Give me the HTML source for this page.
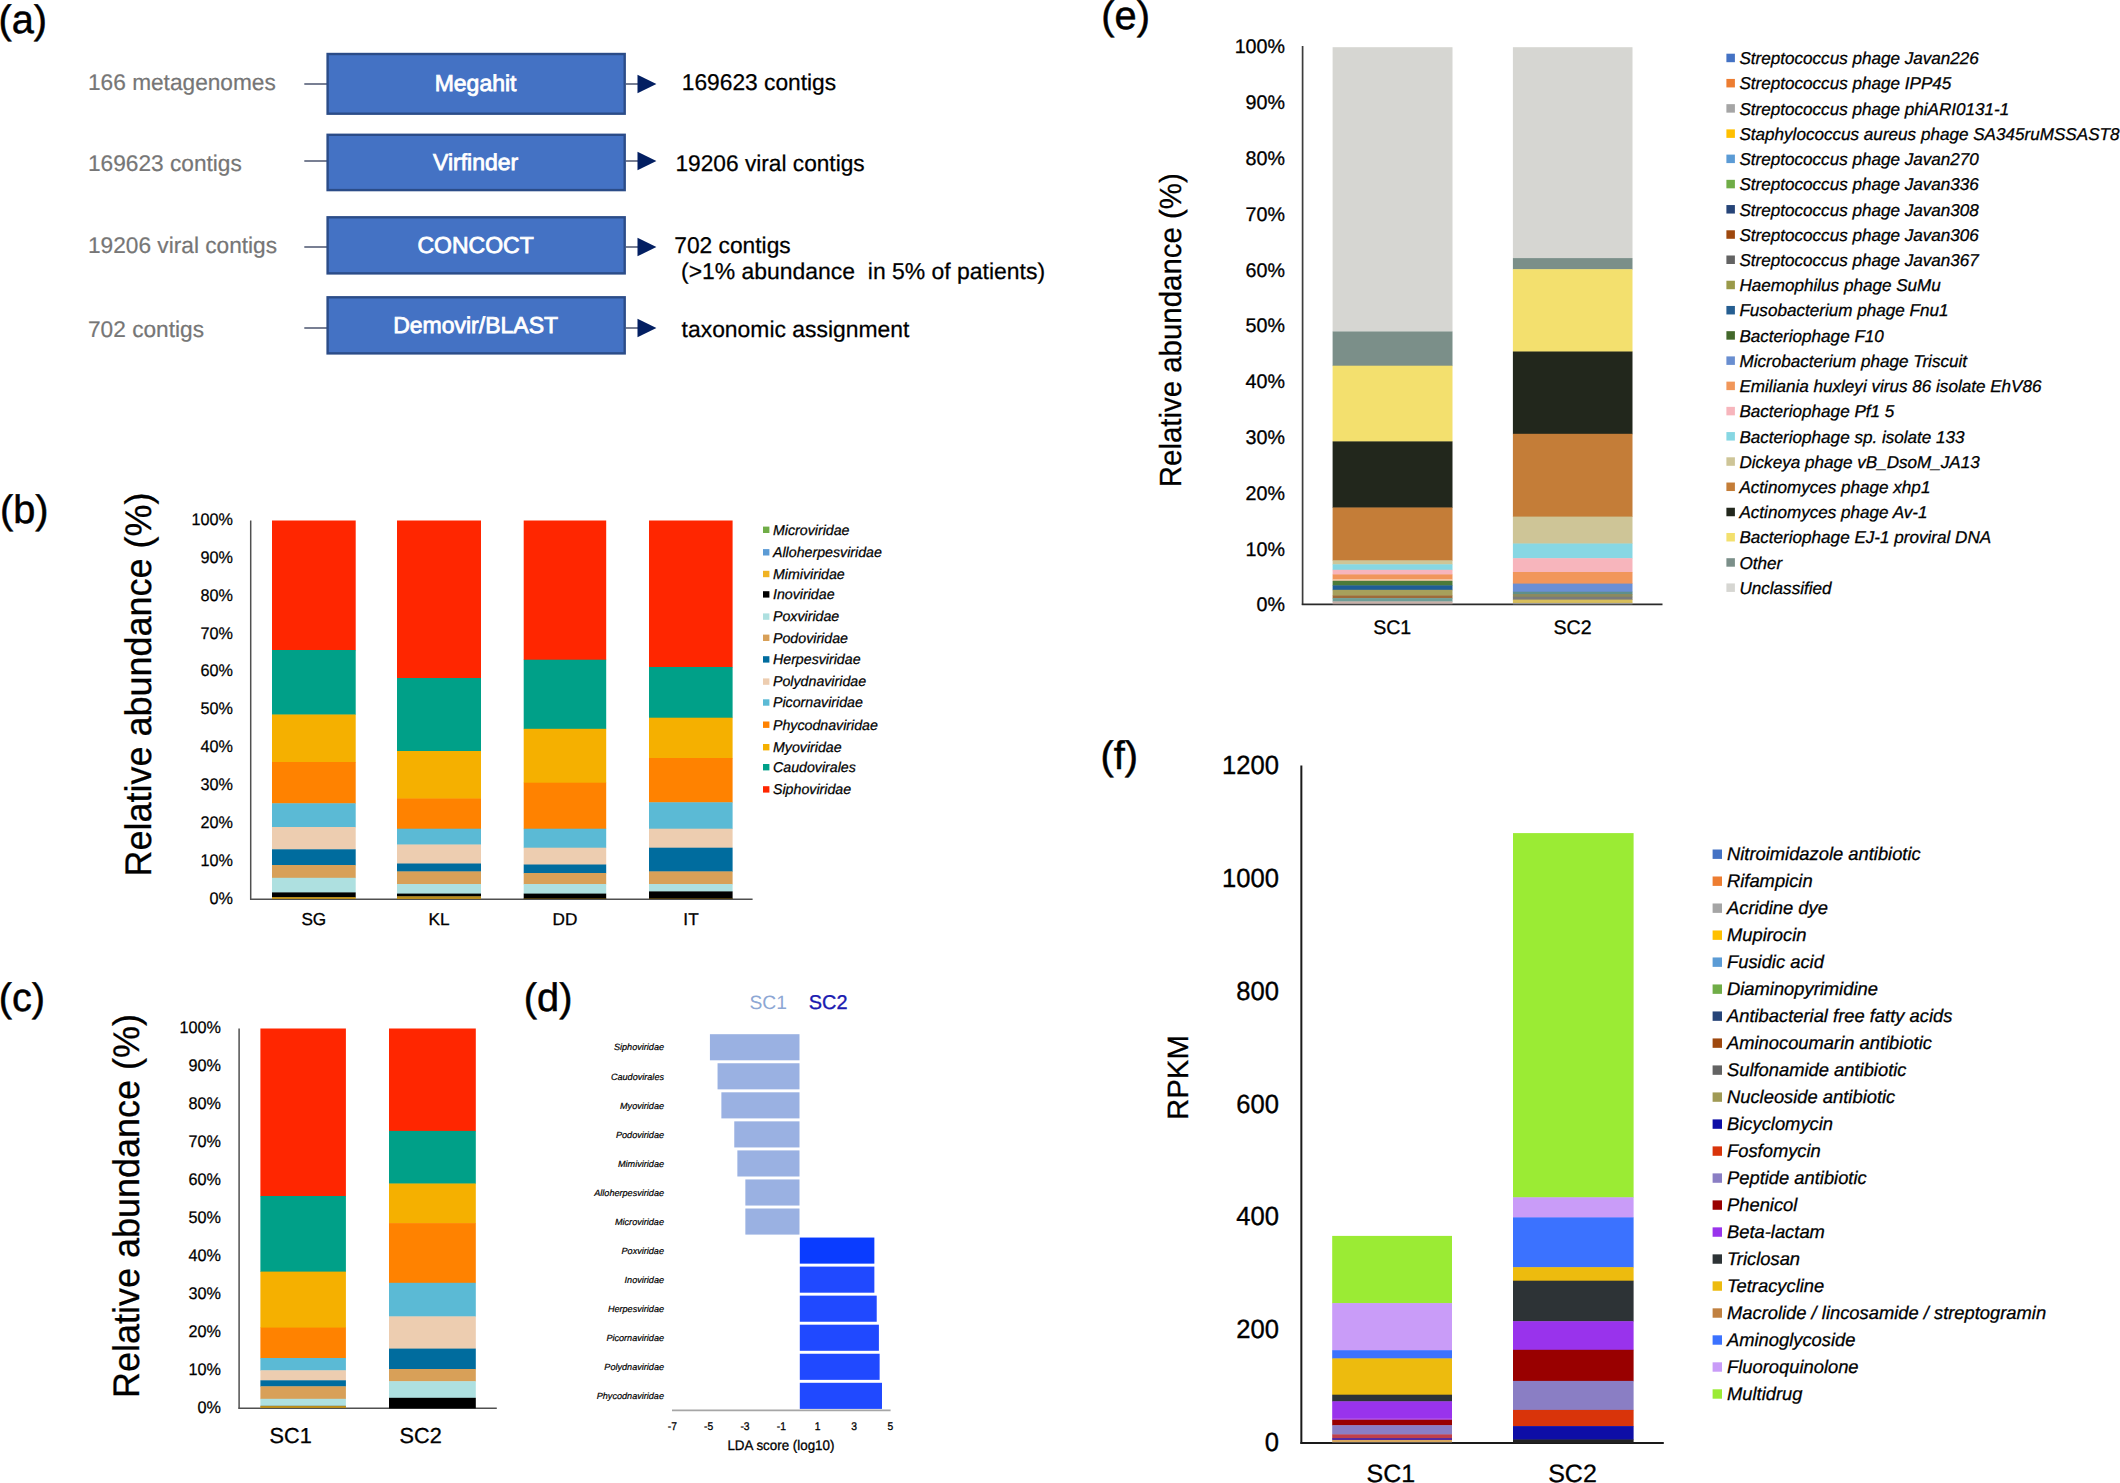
<!DOCTYPE html>
<html lang="en">
<head>
<meta charset="utf-8">
<title>Figure</title>
<style>
html,body{margin:0;padding:0;background:#fff;}
body{width:2120px;height:1483px;overflow:hidden;}
svg{display:block;font-family:"Liberation Sans",sans-serif;}
text{white-space:pre;}
</style>
</head>
<body>
<svg width="2120" height="1483" viewBox="0 0 2120 1483" text-rendering="geometricPrecision">
<rect width="2120" height="1483" fill="#fff"/>
<g id="panel-a">
<text x="-1.60" y="32.90" font-size="39.75" stroke="#000" stroke-width="0.5">(a)</text>
<text x="88.00" y="90.00" font-size="22.68" fill="#767676" stroke="#767676" stroke-width="0.2">166 metagenomes</text>
<line x1="304.30" y1="84.00" x2="327.00" y2="84.00" stroke="#2f3a58" stroke-width="1.3"/>
<rect x="327.60" y="54.00" width="297.10" height="59.70" fill="#4472c4" stroke="#2b4c88" stroke-width="2.4"/>
<text x="475.60" y="91.15" font-size="23.0" text-anchor="middle" fill="#fff" stroke="#fff" stroke-width="0.8">Megahit</text>
<line x1="625.90" y1="84.00" x2="640.00" y2="84.00" stroke="#2f3a58" stroke-width="1.3"/>
<polygon points="637.5,74.7 656.4,84.0 637.5,93.3" fill="#031f62"/>
<text x="681.80" y="90.00" font-size="22.75" xml:space="preserve" stroke="#000" stroke-width="0.25">169623 contigs</text>
<text x="88.00" y="171.00" font-size="22.68" fill="#767676" stroke="#767676" stroke-width="0.2">169623 contigs</text>
<line x1="304.30" y1="161.00" x2="327.00" y2="161.00" stroke="#2f3a58" stroke-width="1.3"/>
<rect x="327.60" y="134.80" width="297.10" height="55.30" fill="#4472c4" stroke="#2b4c88" stroke-width="2.4"/>
<text x="475.60" y="169.75" font-size="23.0" text-anchor="middle" fill="#fff" stroke="#fff" stroke-width="0.8">Virfinder</text>
<line x1="625.90" y1="161.00" x2="640.00" y2="161.00" stroke="#2f3a58" stroke-width="1.3"/>
<polygon points="637.5,151.7 656.4,161.0 637.5,170.3" fill="#031f62"/>
<text x="675.50" y="171.00" font-size="22.7" xml:space="preserve" stroke="#000" stroke-width="0.25">19206 viral contigs</text>
<text x="88.00" y="252.50" font-size="22.68" fill="#767676" stroke="#767676" stroke-width="0.2">19206 viral contigs</text>
<line x1="304.30" y1="247.00" x2="327.00" y2="247.00" stroke="#2f3a58" stroke-width="1.3"/>
<rect x="327.60" y="217.30" width="297.10" height="56.10" fill="#4472c4" stroke="#2b4c88" stroke-width="2.4"/>
<text x="475.60" y="252.65" font-size="23.0" text-anchor="middle" fill="#fff" stroke="#fff" stroke-width="0.8">CONCOCT</text>
<line x1="625.90" y1="247.00" x2="640.00" y2="247.00" stroke="#2f3a58" stroke-width="1.3"/>
<polygon points="637.5,237.7 656.4,247.0 637.5,256.3" fill="#031f62"/>
<text x="674.30" y="252.50" font-size="22.75" xml:space="preserve" stroke="#000" stroke-width="0.25">702 contigs</text>
<text x="681.00" y="279.40" font-size="22.94" xml:space="preserve" stroke="#000" stroke-width="0.25">(&gt;1% abundance  in 5% of patients)</text>
<text x="88.00" y="337.00" font-size="22.68" fill="#767676" stroke="#767676" stroke-width="0.2">702 contigs</text>
<line x1="304.30" y1="328.00" x2="327.00" y2="328.00" stroke="#2f3a58" stroke-width="1.3"/>
<rect x="327.60" y="297.30" width="297.10" height="56.10" fill="#4472c4" stroke="#2b4c88" stroke-width="2.4"/>
<text x="475.60" y="332.65" font-size="23.0" text-anchor="middle" fill="#fff" stroke="#fff" stroke-width="0.8">Demovir/BLAST</text>
<line x1="625.90" y1="328.00" x2="640.00" y2="328.00" stroke="#2f3a58" stroke-width="1.3"/>
<polygon points="637.5,318.7 656.4,328.0 637.5,337.3" fill="#031f62"/>
<text x="681.60" y="337.00" font-size="22.9" xml:space="preserve" stroke="#000" stroke-width="0.25">taxonomic assignment</text>
</g>
<g id="panel-b">
<text x="0.00" y="522.70" font-size="39.75" stroke="#000" stroke-width="0.5">(b)</text>
<text x="150.90" y="684.50" font-size="37.0" text-anchor="middle" transform="rotate(-90 150.90 684.50)" textLength="384.00" lengthAdjust="spacingAndGlyphs" stroke="#000" stroke-width="0.3">Relative abundance (%)</text>
<text transform="translate(233.00 903.50) scale(0.96 1)" font-size="16.9" text-anchor="end" fill="#000" stroke="#000" stroke-width="0.25">0%</text>
<text transform="translate(233.00 865.65) scale(0.96 1)" font-size="16.9" text-anchor="end" fill="#000" stroke="#000" stroke-width="0.25">10%</text>
<text transform="translate(233.00 827.80) scale(0.96 1)" font-size="16.9" text-anchor="end" fill="#000" stroke="#000" stroke-width="0.25">20%</text>
<text transform="translate(233.00 789.95) scale(0.96 1)" font-size="16.9" text-anchor="end" fill="#000" stroke="#000" stroke-width="0.25">30%</text>
<text transform="translate(233.00 752.10) scale(0.96 1)" font-size="16.9" text-anchor="end" fill="#000" stroke="#000" stroke-width="0.25">40%</text>
<text transform="translate(233.00 714.25) scale(0.96 1)" font-size="16.9" text-anchor="end" fill="#000" stroke="#000" stroke-width="0.25">50%</text>
<text transform="translate(233.00 676.40) scale(0.96 1)" font-size="16.9" text-anchor="end" fill="#000" stroke="#000" stroke-width="0.25">60%</text>
<text transform="translate(233.00 638.55) scale(0.96 1)" font-size="16.9" text-anchor="end" fill="#000" stroke="#000" stroke-width="0.25">70%</text>
<text transform="translate(233.00 600.70) scale(0.96 1)" font-size="16.9" text-anchor="end" fill="#000" stroke="#000" stroke-width="0.25">80%</text>
<text transform="translate(233.00 562.85) scale(0.96 1)" font-size="16.9" text-anchor="end" fill="#000" stroke="#000" stroke-width="0.25">90%</text>
<text transform="translate(233.00 525.00) scale(0.96 1)" font-size="16.9" text-anchor="end" fill="#000" stroke="#000" stroke-width="0.25">100%</text>
<line x1="250.70" y1="520.50" x2="250.70" y2="899.70" stroke="#505050" stroke-width="1.5"/>
<line x1="250.00" y1="899.30" x2="752.60" y2="899.30" stroke="#505050" stroke-width="1.6"/>
<rect x="272.00" y="520.50" width="83.70" height="129.90" fill="#ff2600"/>
<rect x="272.00" y="650.00" width="83.70" height="64.90" fill="#00a088"/>
<rect x="272.00" y="714.50" width="83.70" height="47.90" fill="#f5b000"/>
<rect x="272.00" y="762.00" width="83.70" height="41.70" fill="#ff8200"/>
<rect x="272.00" y="803.30" width="83.70" height="24.10" fill="#5bbad5"/>
<rect x="272.00" y="827.00" width="83.70" height="22.70" fill="#edcdb0"/>
<rect x="272.00" y="849.30" width="83.70" height="16.10" fill="#006c9e"/>
<rect x="272.00" y="865.00" width="83.70" height="13.20" fill="#d8a058"/>
<rect x="272.00" y="877.80" width="83.70" height="15.00" fill="#aee0e0"/>
<rect x="272.00" y="892.40" width="83.70" height="5.00" fill="#000000"/>
<rect x="272.00" y="897.00" width="83.70" height="2.00" fill="#b98d1c"/>
<rect x="397.00" y="520.50" width="84.00" height="157.90" fill="#ff2600"/>
<rect x="397.00" y="678.00" width="84.00" height="73.40" fill="#00a088"/>
<rect x="397.00" y="751.00" width="84.00" height="47.90" fill="#f5b000"/>
<rect x="397.00" y="798.50" width="84.00" height="30.60" fill="#ff8200"/>
<rect x="397.00" y="828.70" width="84.00" height="16.20" fill="#5bbad5"/>
<rect x="397.00" y="844.50" width="84.00" height="19.40" fill="#edcdb0"/>
<rect x="397.00" y="863.50" width="84.00" height="8.30" fill="#006c9e"/>
<rect x="397.00" y="871.40" width="84.00" height="13.00" fill="#d8a058"/>
<rect x="397.00" y="884.00" width="84.00" height="10.00" fill="#aee0e0"/>
<rect x="397.00" y="893.60" width="84.00" height="3.10" fill="#000000"/>
<rect x="397.00" y="896.30" width="84.00" height="2.70" fill="#b98d1c"/>
<rect x="523.70" y="520.50" width="82.50" height="139.60" fill="#ff2600"/>
<rect x="523.70" y="659.70" width="82.50" height="69.50" fill="#00a088"/>
<rect x="523.70" y="728.80" width="82.50" height="54.30" fill="#f5b000"/>
<rect x="523.70" y="782.70" width="82.50" height="46.40" fill="#ff8200"/>
<rect x="523.70" y="828.70" width="82.50" height="19.40" fill="#5bbad5"/>
<rect x="523.70" y="847.70" width="82.50" height="17.20" fill="#edcdb0"/>
<rect x="523.70" y="864.50" width="82.50" height="8.90" fill="#006c9e"/>
<rect x="523.70" y="873.00" width="82.50" height="11.40" fill="#d8a058"/>
<rect x="523.70" y="884.00" width="82.50" height="10.00" fill="#aee0e0"/>
<rect x="523.70" y="893.60" width="82.50" height="5.40" fill="#000000"/>
<rect x="523.70" y="898.60" width="82.50" height="0.40" fill="#b98d1c"/>
<rect x="649.00" y="520.50" width="83.60" height="146.90" fill="#ff2600"/>
<rect x="649.00" y="667.00" width="83.60" height="51.10" fill="#00a088"/>
<rect x="649.00" y="717.70" width="83.60" height="40.70" fill="#f5b000"/>
<rect x="649.00" y="758.00" width="83.60" height="44.70" fill="#ff8200"/>
<rect x="649.00" y="802.30" width="83.60" height="26.80" fill="#5bbad5"/>
<rect x="649.00" y="828.70" width="83.60" height="19.40" fill="#edcdb0"/>
<rect x="649.00" y="847.70" width="83.60" height="24.10" fill="#006c9e"/>
<rect x="649.00" y="871.40" width="83.60" height="13.00" fill="#d8a058"/>
<rect x="649.00" y="884.00" width="83.60" height="7.80" fill="#aee0e0"/>
<rect x="649.00" y="891.40" width="83.60" height="7.60" fill="#000000"/>
<rect x="649.00" y="898.60" width="83.60" height="0.40" fill="#b98d1c"/>
<text x="313.80" y="925.00" font-size="17.2" text-anchor="middle" stroke="#000" stroke-width="0.3">SG</text>
<text x="439.00" y="925.00" font-size="17.2" text-anchor="middle" stroke="#000" stroke-width="0.3">KL</text>
<text x="565.00" y="925.00" font-size="17.2" text-anchor="middle" stroke="#000" stroke-width="0.3">DD</text>
<text x="691.00" y="925.00" font-size="17.2" text-anchor="middle" stroke="#000" stroke-width="0.3">IT</text>
<rect x="763.00" y="526.60" width="6.40" height="6.40" fill="#70ad47"/>
<text x="773.00" y="534.60" font-size="14.2" font-style="italic" stroke="#000" stroke-width="0.25">Microviridae</text>
<rect x="763.00" y="549.10" width="6.40" height="6.40" fill="#5b9bd5"/>
<text x="773.00" y="557.10" font-size="14.2" font-style="italic" stroke="#000" stroke-width="0.25">Alloherpesviridae</text>
<rect x="763.00" y="570.80" width="6.40" height="6.40" fill="#f0b323"/>
<text x="773.00" y="578.80" font-size="14.2" font-style="italic" stroke="#000" stroke-width="0.25">Mimiviridae</text>
<rect x="763.00" y="591.20" width="6.40" height="6.40" fill="#000"/>
<text x="773.00" y="599.20" font-size="14.2" font-style="italic" stroke="#000" stroke-width="0.25">Inoviridae</text>
<rect x="763.00" y="613.40" width="6.40" height="6.40" fill="#aee0e0"/>
<text x="773.00" y="621.40" font-size="14.2" font-style="italic" stroke="#000" stroke-width="0.25">Poxviridae</text>
<rect x="763.00" y="634.60" width="6.40" height="6.40" fill="#d8a058"/>
<text x="773.00" y="642.60" font-size="14.2" font-style="italic" stroke="#000" stroke-width="0.25">Podoviridae</text>
<rect x="763.00" y="656.20" width="6.40" height="6.40" fill="#006c9e"/>
<text x="773.00" y="664.20" font-size="14.2" font-style="italic" stroke="#000" stroke-width="0.25">Herpesviridae</text>
<rect x="763.00" y="678.40" width="6.40" height="6.40" fill="#edcdb0"/>
<text x="773.00" y="686.40" font-size="14.2" font-style="italic" stroke="#000" stroke-width="0.25">Polydnaviridae</text>
<rect x="763.00" y="699.30" width="6.40" height="6.40" fill="#5bbad5"/>
<text x="773.00" y="707.30" font-size="14.2" font-style="italic" stroke="#000" stroke-width="0.25">Picornaviridae</text>
<rect x="763.00" y="721.50" width="6.40" height="6.40" fill="#ff8200"/>
<text x="773.00" y="729.50" font-size="14.2" font-style="italic" stroke="#000" stroke-width="0.25">Phycodnaviridae</text>
<rect x="763.00" y="744.00" width="6.40" height="6.40" fill="#f5b000"/>
<text x="773.00" y="752.00" font-size="14.2" font-style="italic" stroke="#000" stroke-width="0.25">Myoviridae</text>
<rect x="763.00" y="764.00" width="6.40" height="6.40" fill="#00a088"/>
<text x="773.00" y="772.00" font-size="14.2" font-style="italic" stroke="#000" stroke-width="0.25">Caudovirales</text>
<rect x="763.00" y="786.20" width="6.40" height="6.40" fill="#ff2600"/>
<text x="773.00" y="794.20" font-size="14.2" font-style="italic" stroke="#000" stroke-width="0.25">Siphoviridae</text>
</g>
<g id="panel-c">
<text x="-1.30" y="1010.70" font-size="39.75" stroke="#000" stroke-width="0.5">(c)</text>
<text x="138.80" y="1206.00" font-size="37.0" text-anchor="middle" transform="rotate(-90 138.80 1206.00)" textLength="384.00" lengthAdjust="spacingAndGlyphs" stroke="#000" stroke-width="0.3">Relative abundance (%)</text>
<text transform="translate(221.00 1412.50) scale(0.96 1)" font-size="16.9" text-anchor="end" fill="#000" stroke="#000" stroke-width="0.25">0%</text>
<text transform="translate(221.00 1374.55) scale(0.96 1)" font-size="16.9" text-anchor="end" fill="#000" stroke="#000" stroke-width="0.25">10%</text>
<text transform="translate(221.00 1336.60) scale(0.96 1)" font-size="16.9" text-anchor="end" fill="#000" stroke="#000" stroke-width="0.25">20%</text>
<text transform="translate(221.00 1298.65) scale(0.96 1)" font-size="16.9" text-anchor="end" fill="#000" stroke="#000" stroke-width="0.25">30%</text>
<text transform="translate(221.00 1260.70) scale(0.96 1)" font-size="16.9" text-anchor="end" fill="#000" stroke="#000" stroke-width="0.25">40%</text>
<text transform="translate(221.00 1222.75) scale(0.96 1)" font-size="16.9" text-anchor="end" fill="#000" stroke="#000" stroke-width="0.25">50%</text>
<text transform="translate(221.00 1184.80) scale(0.96 1)" font-size="16.9" text-anchor="end" fill="#000" stroke="#000" stroke-width="0.25">60%</text>
<text transform="translate(221.00 1146.85) scale(0.96 1)" font-size="16.9" text-anchor="end" fill="#000" stroke="#000" stroke-width="0.25">70%</text>
<text transform="translate(221.00 1108.90) scale(0.96 1)" font-size="16.9" text-anchor="end" fill="#000" stroke="#000" stroke-width="0.25">80%</text>
<text transform="translate(221.00 1070.95) scale(0.96 1)" font-size="16.9" text-anchor="end" fill="#000" stroke="#000" stroke-width="0.25">90%</text>
<text transform="translate(221.00 1033.00) scale(0.96 1)" font-size="16.9" text-anchor="end" fill="#000" stroke="#000" stroke-width="0.25">100%</text>
<line x1="239.10" y1="1028.50" x2="239.10" y2="1408.70" stroke="#505050" stroke-width="1.5"/>
<line x1="238.40" y1="1408.30" x2="496.80" y2="1408.30" stroke="#505050" stroke-width="1.6"/>
<rect x="260.40" y="1028.50" width="85.50" height="167.90" fill="#ff2600"/>
<rect x="260.40" y="1196.00" width="85.50" height="76.00" fill="#00a088"/>
<rect x="260.40" y="1271.60" width="85.50" height="56.40" fill="#f5b000"/>
<rect x="260.40" y="1327.60" width="85.50" height="30.80" fill="#ff8200"/>
<rect x="260.40" y="1358.00" width="85.50" height="12.70" fill="#5bbad5"/>
<rect x="260.40" y="1370.30" width="85.50" height="10.40" fill="#edcdb0"/>
<rect x="260.40" y="1380.30" width="85.50" height="6.40" fill="#006c9e"/>
<rect x="260.40" y="1386.30" width="85.50" height="12.90" fill="#d8a058"/>
<rect x="260.40" y="1398.80" width="85.50" height="7.50" fill="#aee0e0"/>
<rect x="260.40" y="1405.90" width="85.50" height="0.40" fill="#000000"/>
<rect x="260.40" y="1405.90" width="85.50" height="2.10" fill="#b98d1c"/>
<rect x="389.00" y="1028.50" width="86.80" height="102.80" fill="#ff2600"/>
<rect x="389.00" y="1130.90" width="86.80" height="53.00" fill="#00a088"/>
<rect x="389.00" y="1183.50" width="86.80" height="40.00" fill="#f5b000"/>
<rect x="389.00" y="1223.10" width="86.80" height="60.10" fill="#ff8200"/>
<rect x="389.00" y="1282.80" width="86.80" height="34.00" fill="#5bbad5"/>
<rect x="389.00" y="1316.40" width="86.80" height="32.60" fill="#edcdb0"/>
<rect x="389.00" y="1348.60" width="86.80" height="20.80" fill="#006c9e"/>
<rect x="389.00" y="1369.00" width="86.80" height="12.60" fill="#d8a058"/>
<rect x="389.00" y="1381.20" width="86.80" height="17.00" fill="#aee0e0"/>
<rect x="389.00" y="1397.80" width="86.80" height="10.60" fill="#000000"/>
<rect x="389.00" y="1408.00" width="86.80" height="0.00" fill="#b98d1c"/>
<text x="290.70" y="1443.00" font-size="21.7" text-anchor="middle" stroke="#000" stroke-width="0.3">SC1</text>
<text x="420.70" y="1443.00" font-size="21.7" text-anchor="middle" stroke="#000" stroke-width="0.3">SC2</text>
</g>
<g id="panel-d">
<text x="523.80" y="1010.50" font-size="39.75" stroke="#000" stroke-width="0.5">(d)</text>
<text x="749.50" y="1009.00" font-size="19.3" fill="#8da7d4">SC1</text>
<text x="808.80" y="1009.00" font-size="19.9" fill="#1a1ab0" stroke="#1a1ab0" stroke-width="0.35">SC2</text>
<rect x="709.92" y="1034.20" width="89.58" height="26.10" fill="#9ab1e2"/>
<text x="664.00" y="1050.45" font-size="9.1" text-anchor="end" font-style="italic" stroke="#000" stroke-width="0.2">Siphoviridae</text>
<rect x="717.55" y="1063.25" width="81.95" height="26.10" fill="#9ab1e2"/>
<text x="664.00" y="1079.50" font-size="9.1" text-anchor="end" font-style="italic" stroke="#000" stroke-width="0.2">Caudovirales</text>
<rect x="721.37" y="1092.30" width="78.13" height="26.10" fill="#9ab1e2"/>
<text x="664.00" y="1108.55" font-size="9.1" text-anchor="end" font-style="italic" stroke="#000" stroke-width="0.2">Myoviridae</text>
<rect x="734.27" y="1121.35" width="65.23" height="26.10" fill="#9ab1e2"/>
<text x="664.00" y="1137.60" font-size="9.1" text-anchor="end" font-style="italic" stroke="#000" stroke-width="0.2">Podoviridae</text>
<rect x="737.36" y="1150.40" width="62.14" height="26.10" fill="#9ab1e2"/>
<text x="664.00" y="1166.65" font-size="9.1" text-anchor="end" font-style="italic" stroke="#000" stroke-width="0.2">Mimiviridae</text>
<rect x="745.35" y="1179.45" width="54.15" height="26.10" fill="#9ab1e2"/>
<text x="664.00" y="1195.70" font-size="9.1" text-anchor="end" font-style="italic" stroke="#000" stroke-width="0.2">Alloherpesviridae</text>
<rect x="745.35" y="1208.50" width="54.15" height="26.10" fill="#9ab1e2"/>
<text x="664.00" y="1224.75" font-size="9.1" text-anchor="end" font-style="italic" stroke="#000" stroke-width="0.2">Microviridae</text>
<rect x="799.80" y="1237.55" width="74.56" height="26.10" fill="#0a3cff"/>
<text x="664.00" y="1253.80" font-size="9.1" text-anchor="end" font-style="italic" stroke="#000" stroke-width="0.2">Poxviridae</text>
<rect x="799.80" y="1266.60" width="74.56" height="26.10" fill="#2049ff"/>
<text x="664.00" y="1282.85" font-size="9.1" text-anchor="end" font-style="italic" stroke="#000" stroke-width="0.2">Inoviridae</text>
<rect x="799.80" y="1295.65" width="76.92" height="26.10" fill="#2049ff"/>
<text x="664.00" y="1311.90" font-size="9.1" text-anchor="end" font-style="italic" stroke="#000" stroke-width="0.2">Herpesviridae</text>
<rect x="799.80" y="1324.70" width="79.10" height="26.10" fill="#2049ff"/>
<text x="664.00" y="1340.95" font-size="9.1" text-anchor="end" font-style="italic" stroke="#000" stroke-width="0.2">Picornaviridae</text>
<rect x="799.80" y="1353.75" width="79.83" height="26.10" fill="#2049ff"/>
<text x="664.00" y="1370.00" font-size="9.1" text-anchor="end" font-style="italic" stroke="#000" stroke-width="0.2">Polydnaviridae</text>
<rect x="799.80" y="1382.80" width="82.19" height="26.10" fill="#2049ff"/>
<text x="664.00" y="1399.05" font-size="9.1" text-anchor="end" font-style="italic" stroke="#000" stroke-width="0.2">Phycodnaviridae</text>
<line x1="672.00" y1="1410.30" x2="890.60" y2="1410.30" stroke="#a6a6a6" stroke-width="1.8"/>
<text transform="translate(672.31 1429.6) scale(0.92 1)" font-size="11.2" text-anchor="middle" stroke="#000" stroke-width="0.3">-7</text>
<text transform="translate(708.65 1429.6) scale(0.92 1)" font-size="11.2" text-anchor="middle" stroke="#000" stroke-width="0.3">-5</text>
<text transform="translate(744.99 1429.6) scale(0.92 1)" font-size="11.2" text-anchor="middle" stroke="#000" stroke-width="0.3">-3</text>
<text transform="translate(781.33 1429.6) scale(0.92 1)" font-size="11.2" text-anchor="middle" stroke="#000" stroke-width="0.3">-1</text>
<text transform="translate(817.67 1429.6) scale(0.92 1)" font-size="11.2" text-anchor="middle" stroke="#000" stroke-width="0.3">1</text>
<text transform="translate(854.01 1429.6) scale(0.92 1)" font-size="11.2" text-anchor="middle" stroke="#000" stroke-width="0.3">3</text>
<text transform="translate(890.35 1429.6) scale(0.92 1)" font-size="11.2" text-anchor="middle" stroke="#000" stroke-width="0.3">5</text>
<text transform="translate(780.9 1450) scale(0.955 1)" font-size="14" text-anchor="middle" stroke="#000" stroke-width="0.3">LDA score (log10)</text>
</g>
<g id="panel-e">
<text x="1101.30" y="29.40" font-size="39.75" stroke="#000" stroke-width="0.5">(e)</text>
<text x="1181.30" y="330.20" font-size="30.6" text-anchor="middle" transform="rotate(-90 1181.30 330.20)" textLength="314.00" lengthAdjust="spacingAndGlyphs" stroke="#000" stroke-width="0.25">Relative abundance (%)</text>
<text x="1285.00" y="611.30" font-size="19.7" text-anchor="end" stroke="#000" stroke-width="0.3">0%</text>
<text x="1285.00" y="555.50" font-size="19.7" text-anchor="end" stroke="#000" stroke-width="0.3">10%</text>
<text x="1285.00" y="499.70" font-size="19.7" text-anchor="end" stroke="#000" stroke-width="0.3">20%</text>
<text x="1285.00" y="443.90" font-size="19.7" text-anchor="end" stroke="#000" stroke-width="0.3">30%</text>
<text x="1285.00" y="388.10" font-size="19.7" text-anchor="end" stroke="#000" stroke-width="0.3">40%</text>
<text x="1285.00" y="332.30" font-size="19.7" text-anchor="end" stroke="#000" stroke-width="0.3">50%</text>
<text x="1285.00" y="276.50" font-size="19.7" text-anchor="end" stroke="#000" stroke-width="0.3">60%</text>
<text x="1285.00" y="220.70" font-size="19.7" text-anchor="end" stroke="#000" stroke-width="0.3">70%</text>
<text x="1285.00" y="164.90" font-size="19.7" text-anchor="end" stroke="#000" stroke-width="0.3">80%</text>
<text x="1285.00" y="109.10" font-size="19.7" text-anchor="end" stroke="#000" stroke-width="0.3">90%</text>
<text x="1285.00" y="53.30" font-size="19.7" text-anchor="end" stroke="#000" stroke-width="0.3">100%</text>
<line x1="1302.60" y1="46.10" x2="1302.60" y2="605.10" stroke="#3c3c3c" stroke-width="1.7"/>
<line x1="1301.80" y1="604.40" x2="1662.50" y2="604.40" stroke="#2a2a2a" stroke-width="1.7"/>
<rect x="1332.60" y="47.20" width="119.90" height="284.70" fill="#d6d6d2"/>
<rect x="1332.60" y="331.50" width="119.90" height="34.60" fill="#7b8f89"/>
<rect x="1332.60" y="365.70" width="119.90" height="76.10" fill="#f3e06e"/>
<rect x="1332.60" y="441.40" width="119.90" height="66.50" fill="#22271c"/>
<rect x="1332.60" y="507.50" width="119.90" height="53.30" fill="#c47d38"/>
<rect x="1332.60" y="560.40" width="119.90" height="4.30" fill="#cec597"/>
<rect x="1332.60" y="564.30" width="119.90" height="5.90" fill="#87d7e3"/>
<rect x="1332.60" y="569.80" width="119.90" height="5.00" fill="#f7b5bc"/>
<rect x="1332.60" y="574.40" width="119.90" height="5.30" fill="#f1965b"/>
<rect x="1332.60" y="579.30" width="119.90" height="1.90" fill="#f4c9a8"/>
<rect x="1332.60" y="580.80" width="119.90" height="5.00" fill="#4c7a3a"/>
<rect x="1332.60" y="585.40" width="119.90" height="4.80" fill="#1f5d96"/>
<rect x="1332.60" y="589.80" width="119.90" height="6.10" fill="#a7a05c"/>
<rect x="1332.60" y="595.50" width="119.90" height="3.00" fill="#9e6b3a"/>
<rect x="1332.60" y="598.10" width="119.90" height="3.70" fill="#6f9e97"/>
<rect x="1332.60" y="601.40" width="119.90" height="2.60" fill="#c9b0a8"/>
<rect x="1332.60" y="603.60" width="119.90" height="0.70" fill="#888"/>
<rect x="1512.90" y="47.20" width="119.60" height="211.30" fill="#d6d6d2"/>
<rect x="1512.90" y="258.10" width="119.60" height="11.50" fill="#7b8f89"/>
<rect x="1512.90" y="269.20" width="119.60" height="82.70" fill="#f3e06e"/>
<rect x="1512.90" y="351.50" width="119.60" height="82.70" fill="#22271c"/>
<rect x="1512.90" y="433.80" width="119.60" height="83.20" fill="#c47d38"/>
<rect x="1512.90" y="516.60" width="119.60" height="27.30" fill="#cec597"/>
<rect x="1512.90" y="543.50" width="119.60" height="15.10" fill="#87d7e3"/>
<rect x="1512.90" y="558.20" width="119.60" height="14.20" fill="#f7b5bc"/>
<rect x="1512.90" y="572.00" width="119.60" height="12.00" fill="#f1965b"/>
<rect x="1512.90" y="583.60" width="119.60" height="8.50" fill="#6a8fd5"/>
<rect x="1512.90" y="591.70" width="119.60" height="2.70" fill="#5f8f8a"/>
<rect x="1512.90" y="594.00" width="119.60" height="3.20" fill="#8a8a60"/>
<rect x="1512.90" y="596.80" width="119.60" height="3.20" fill="#7a7a7a"/>
<rect x="1512.90" y="599.60" width="119.60" height="3.70" fill="#d8be5a"/>
<rect x="1512.90" y="602.90" width="119.60" height="1.40" fill="#999"/>
<text x="1392.20" y="634.20" font-size="19.6" text-anchor="middle" stroke="#000" stroke-width="0.3">SC1</text>
<text x="1572.60" y="634.20" font-size="19.6" text-anchor="middle" stroke="#000" stroke-width="0.3">SC2</text>
<rect x="1726.40" y="53.70" width="8.50" height="8.50" fill="#4472c4"/>
<text x="1739.40" y="64.15" font-size="17.1" font-style="italic" stroke="#000" stroke-width="0.28">Streptococcus phage Javan226</text>
<rect x="1726.40" y="78.92" width="8.50" height="8.50" fill="#ed7d31"/>
<text x="1739.40" y="89.38" font-size="17.1" font-style="italic" stroke="#000" stroke-width="0.28">Streptococcus phage IPP45</text>
<rect x="1726.40" y="104.15" width="8.50" height="8.50" fill="#a5a5a5"/>
<text x="1739.40" y="114.60" font-size="17.1" font-style="italic" stroke="#000" stroke-width="0.28">Streptococcus phage phiARI0131-1</text>
<rect x="1726.40" y="129.38" width="8.50" height="8.50" fill="#ffc000"/>
<text x="1739.40" y="139.83" font-size="17.1" font-style="italic" stroke="#000" stroke-width="0.28">Staphylococcus aureus phage SA345ruMSSAST8</text>
<rect x="1726.40" y="154.60" width="8.50" height="8.50" fill="#5b9bd5"/>
<text x="1739.40" y="165.05" font-size="17.1" font-style="italic" stroke="#000" stroke-width="0.28">Streptococcus phage Javan270</text>
<rect x="1726.40" y="179.83" width="8.50" height="8.50" fill="#70ad47"/>
<text x="1739.40" y="190.28" font-size="17.1" font-style="italic" stroke="#000" stroke-width="0.28">Streptococcus phage Javan336</text>
<rect x="1726.40" y="205.05" width="8.50" height="8.50" fill="#264478"/>
<text x="1739.40" y="215.50" font-size="17.1" font-style="italic" stroke="#000" stroke-width="0.28">Streptococcus phage Javan308</text>
<rect x="1726.40" y="230.28" width="8.50" height="8.50" fill="#9e480e"/>
<text x="1739.40" y="240.73" font-size="17.1" font-style="italic" stroke="#000" stroke-width="0.28">Streptococcus phage Javan306</text>
<rect x="1726.40" y="255.50" width="8.50" height="8.50" fill="#636363"/>
<text x="1739.40" y="265.95" font-size="17.1" font-style="italic" stroke="#000" stroke-width="0.28">Streptococcus phage Javan367</text>
<rect x="1726.40" y="280.73" width="8.50" height="8.50" fill="#9a9a4a"/>
<text x="1739.40" y="291.18" font-size="17.1" font-style="italic" stroke="#000" stroke-width="0.28">Haemophilus phage SuMu</text>
<rect x="1726.40" y="305.95" width="8.50" height="8.50" fill="#255e91"/>
<text x="1739.40" y="316.40" font-size="17.1" font-style="italic" stroke="#000" stroke-width="0.28">Fusobacterium phage Fnu1</text>
<rect x="1726.40" y="331.18" width="8.50" height="8.50" fill="#43682b"/>
<text x="1739.40" y="341.62" font-size="17.1" font-style="italic" stroke="#000" stroke-width="0.28">Bacteriophage F10</text>
<rect x="1726.40" y="356.40" width="8.50" height="8.50" fill="#698ed0"/>
<text x="1739.40" y="366.85" font-size="17.1" font-style="italic" stroke="#000" stroke-width="0.28">Microbacterium phage Triscuit</text>
<rect x="1726.40" y="381.63" width="8.50" height="8.50" fill="#f1975a"/>
<text x="1739.40" y="392.08" font-size="17.1" font-style="italic" stroke="#000" stroke-width="0.28">Emiliania huxleyi virus 86 isolate EhV86</text>
<rect x="1726.40" y="406.85" width="8.50" height="8.50" fill="#f7b5bc"/>
<text x="1739.40" y="417.30" font-size="17.1" font-style="italic" stroke="#000" stroke-width="0.28">Bacteriophage Pf1 5</text>
<rect x="1726.40" y="432.07" width="8.50" height="8.50" fill="#87d7e3"/>
<text x="1739.40" y="442.52" font-size="17.1" font-style="italic" stroke="#000" stroke-width="0.28">Bacteriophage sp. isolate 133</text>
<rect x="1726.40" y="457.30" width="8.50" height="8.50" fill="#cec597"/>
<text x="1739.40" y="467.75" font-size="17.1" font-style="italic" stroke="#000" stroke-width="0.28">Dickeya phage vB_DsoM_JA13</text>
<rect x="1726.40" y="482.53" width="8.50" height="8.50" fill="#c47d38"/>
<text x="1739.40" y="492.98" font-size="17.1" font-style="italic" stroke="#000" stroke-width="0.28">Actinomyces phage xhp1</text>
<rect x="1726.40" y="507.75" width="8.50" height="8.50" fill="#22271c"/>
<text x="1739.40" y="518.20" font-size="17.1" font-style="italic" stroke="#000" stroke-width="0.28">Actinomyces phage Av-1</text>
<rect x="1726.40" y="532.98" width="8.50" height="8.50" fill="#f3e06e"/>
<text x="1739.40" y="543.43" font-size="17.1" font-style="italic" stroke="#000" stroke-width="0.28">Bacteriophage EJ-1 proviral DNA</text>
<rect x="1726.40" y="558.20" width="8.50" height="8.50" fill="#7b8f89"/>
<text x="1739.40" y="568.65" font-size="17.1" font-style="italic" stroke="#000" stroke-width="0.28">Other</text>
<rect x="1726.40" y="583.42" width="8.50" height="8.50" fill="#d6d6d2"/>
<text x="1739.40" y="593.88" font-size="17.1" font-style="italic" stroke="#000" stroke-width="0.28">Unclassified</text>
</g>
<g id="panel-f">
<text x="1100.40" y="768.50" font-size="39.75" stroke="#000" stroke-width="0.5">(f)</text>
<text x="1187.80" y="1077.50" font-size="29.4" text-anchor="middle" transform="rotate(-90 1187.80 1077.50)" stroke="#000" stroke-width="0.3">RPKM</text>
<text transform="translate(1278.9 1451.10) scale(0.977 1)" font-size="26.2" text-anchor="end" stroke="#000" stroke-width="0.35">0</text>
<text transform="translate(1278.9 1338.23) scale(0.977 1)" font-size="26.2" text-anchor="end" stroke="#000" stroke-width="0.35">200</text>
<text transform="translate(1278.9 1225.37) scale(0.977 1)" font-size="26.2" text-anchor="end" stroke="#000" stroke-width="0.35">400</text>
<text transform="translate(1278.9 1112.50) scale(0.977 1)" font-size="26.2" text-anchor="end" stroke="#000" stroke-width="0.35">600</text>
<text transform="translate(1278.9 999.63) scale(0.977 1)" font-size="26.2" text-anchor="end" stroke="#000" stroke-width="0.35">800</text>
<text transform="translate(1278.9 886.77) scale(0.977 1)" font-size="26.2" text-anchor="end" stroke="#000" stroke-width="0.35">1000</text>
<text transform="translate(1278.9 773.90) scale(0.977 1)" font-size="26.2" text-anchor="end" stroke="#000" stroke-width="0.35">1200</text>
<line x1="1301.35" y1="765.60" x2="1301.35" y2="1443.80" stroke="#1a1a1a" stroke-width="2.0"/>
<line x1="1300.40" y1="1442.90" x2="1663.80" y2="1442.90" stroke="#1a1a1a" stroke-width="2.0"/>
<rect x="1332.20" y="1235.90" width="119.80" height="67.60" fill="#9beb34"/>
<rect x="1332.20" y="1303.10" width="119.80" height="47.50" fill="#c99cf8"/>
<rect x="1332.20" y="1350.20" width="119.80" height="8.60" fill="#3b72ff"/>
<rect x="1332.20" y="1358.40" width="119.80" height="36.70" fill="#edbb0e"/>
<rect x="1332.20" y="1394.70" width="119.80" height="7.00" fill="#2d3336"/>
<rect x="1332.20" y="1401.30" width="119.80" height="17.60" fill="#9933ec"/>
<rect x="1332.20" y="1418.50" width="119.80" height="1.70" fill="#b050e8"/>
<rect x="1332.20" y="1419.80" width="119.80" height="5.80" fill="#990000"/>
<rect x="1332.20" y="1425.20" width="119.80" height="9.60" fill="#8a7ec4"/>
<rect x="1332.20" y="1434.40" width="119.80" height="4.00" fill="#c0404a"/>
<rect x="1332.20" y="1438.00" width="119.80" height="2.40" fill="#5a2a9a"/>
<rect x="1332.20" y="1440.00" width="119.80" height="2.40" fill="#d8a860"/>
<rect x="1332.20" y="1442.00" width="119.80" height="0.80" fill="#555"/>
<rect x="1513.00" y="833.10" width="120.60" height="364.60" fill="#9beb34"/>
<rect x="1513.00" y="1197.30" width="120.60" height="20.50" fill="#c99cf8"/>
<rect x="1513.00" y="1217.40" width="120.60" height="50.20" fill="#3b72ff"/>
<rect x="1513.00" y="1267.20" width="120.60" height="13.90" fill="#edbb0e"/>
<rect x="1513.00" y="1280.70" width="120.60" height="40.90" fill="#2d3336"/>
<rect x="1513.00" y="1321.20" width="120.60" height="29.00" fill="#9933ec"/>
<rect x="1513.00" y="1349.80" width="120.60" height="31.50" fill="#990000"/>
<rect x="1513.00" y="1380.90" width="120.60" height="29.40" fill="#8a7ec4"/>
<rect x="1513.00" y="1409.90" width="120.60" height="16.60" fill="#d9340a"/>
<rect x="1513.00" y="1426.10" width="120.60" height="13.80" fill="#0e0ea6"/>
<rect x="1513.00" y="1439.50" width="120.60" height="3.30" fill="#222"/>
<text x="1390.80" y="1482.30" font-size="25" text-anchor="middle" stroke="#000" stroke-width="0.3">SC1</text>
<text x="1572.50" y="1482.30" font-size="25" text-anchor="middle" stroke="#000" stroke-width="0.3">SC2</text>
<rect x="1712.60" y="849.50" width="9.40" height="9.40" fill="#4472c4"/>
<text x="1727.00" y="860.20" font-size="18.35" font-style="italic" stroke="#000" stroke-width="0.28">Nitroimidazole antibiotic</text>
<rect x="1712.60" y="876.49" width="9.40" height="9.40" fill="#ed7d31"/>
<text x="1727.00" y="887.19" font-size="18.35" font-style="italic" stroke="#000" stroke-width="0.28">Rifampicin</text>
<rect x="1712.60" y="903.48" width="9.40" height="9.40" fill="#a5a5a5"/>
<text x="1727.00" y="914.18" font-size="18.35" font-style="italic" stroke="#000" stroke-width="0.28">Acridine dye</text>
<rect x="1712.60" y="930.47" width="9.40" height="9.40" fill="#ffc000"/>
<text x="1727.00" y="941.17" font-size="18.35" font-style="italic" stroke="#000" stroke-width="0.28">Mupirocin</text>
<rect x="1712.60" y="957.46" width="9.40" height="9.40" fill="#5b9bd5"/>
<text x="1727.00" y="968.16" font-size="18.35" font-style="italic" stroke="#000" stroke-width="0.28">Fusidic acid</text>
<rect x="1712.60" y="984.45" width="9.40" height="9.40" fill="#70ad47"/>
<text x="1727.00" y="995.15" font-size="18.35" font-style="italic" stroke="#000" stroke-width="0.28">Diaminopyrimidine</text>
<rect x="1712.60" y="1011.44" width="9.40" height="9.40" fill="#264478"/>
<text x="1727.00" y="1022.14" font-size="18.35" font-style="italic" stroke="#000" stroke-width="0.28">Antibacterial free fatty acids</text>
<rect x="1712.60" y="1038.43" width="9.40" height="9.40" fill="#9e480e"/>
<text x="1727.00" y="1049.13" font-size="18.35" font-style="italic" stroke="#000" stroke-width="0.28">Aminocoumarin antibiotic</text>
<rect x="1712.60" y="1065.42" width="9.40" height="9.40" fill="#636363"/>
<text x="1727.00" y="1076.12" font-size="18.35" font-style="italic" stroke="#000" stroke-width="0.28">Sulfonamide antibiotic</text>
<rect x="1712.60" y="1092.41" width="9.40" height="9.40" fill="#a09a55"/>
<text x="1727.00" y="1103.11" font-size="18.35" font-style="italic" stroke="#000" stroke-width="0.28">Nucleoside antibiotic</text>
<rect x="1712.60" y="1119.40" width="9.40" height="9.40" fill="#0e0ea6"/>
<text x="1727.00" y="1130.10" font-size="18.35" font-style="italic" stroke="#000" stroke-width="0.28">Bicyclomycin</text>
<rect x="1712.60" y="1146.39" width="9.40" height="9.40" fill="#d9340a"/>
<text x="1727.00" y="1157.09" font-size="18.35" font-style="italic" stroke="#000" stroke-width="0.28">Fosfomycin</text>
<rect x="1712.60" y="1173.38" width="9.40" height="9.40" fill="#8a7ec4"/>
<text x="1727.00" y="1184.08" font-size="18.35" font-style="italic" stroke="#000" stroke-width="0.28">Peptide antibiotic</text>
<rect x="1712.60" y="1200.37" width="9.40" height="9.40" fill="#990000"/>
<text x="1727.00" y="1211.07" font-size="18.35" font-style="italic" stroke="#000" stroke-width="0.28">Phenicol</text>
<rect x="1712.60" y="1227.36" width="9.40" height="9.40" fill="#9933ec"/>
<text x="1727.00" y="1238.06" font-size="18.35" font-style="italic" stroke="#000" stroke-width="0.28">Beta-lactam</text>
<rect x="1712.60" y="1254.35" width="9.40" height="9.40" fill="#2d3336"/>
<text x="1727.00" y="1265.05" font-size="18.35" font-style="italic" stroke="#000" stroke-width="0.28">Triclosan</text>
<rect x="1712.60" y="1281.34" width="9.40" height="9.40" fill="#edbb0e"/>
<text x="1727.00" y="1292.04" font-size="18.35" font-style="italic" stroke="#000" stroke-width="0.28">Tetracycline</text>
<rect x="1712.60" y="1308.33" width="9.40" height="9.40" fill="#c08040"/>
<text x="1727.00" y="1319.03" font-size="18.35" font-style="italic" stroke="#000" stroke-width="0.28">Macrolide / lincosamide / streptogramin</text>
<rect x="1712.60" y="1335.32" width="9.40" height="9.40" fill="#3b72ff"/>
<text x="1727.00" y="1346.02" font-size="18.35" font-style="italic" stroke="#000" stroke-width="0.28">Aminoglycoside</text>
<rect x="1712.60" y="1362.31" width="9.40" height="9.40" fill="#c99cf8"/>
<text x="1727.00" y="1373.01" font-size="18.35" font-style="italic" stroke="#000" stroke-width="0.28">Fluoroquinolone</text>
<rect x="1712.60" y="1389.30" width="9.40" height="9.40" fill="#9beb34"/>
<text x="1727.00" y="1400.00" font-size="18.35" font-style="italic" stroke="#000" stroke-width="0.28">Multidrug</text>
</g>
</svg>
</body>
</html>
